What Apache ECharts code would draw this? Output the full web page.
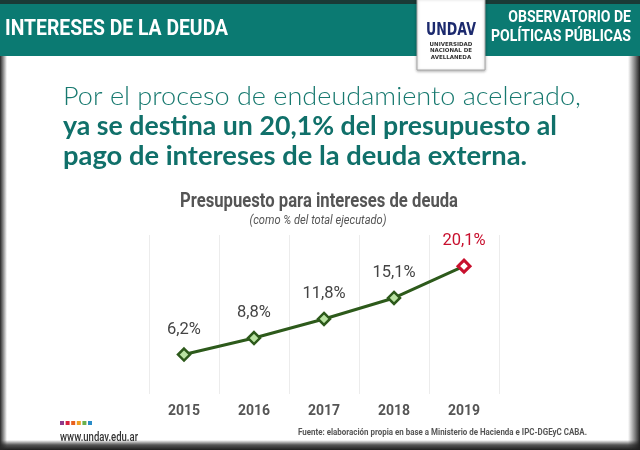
<!DOCTYPE html>
<html><head><meta charset="utf-8">
<script src="https://cdn.jsdelivr.net/npm/echarts@6/dist/echarts.min.js"></script>
<style>html,body{margin:0;padding:0;background:#fff}#c{width:640px;height:450px}</style>
</head><body><div id="c"></div>
<script>
const years = ['2015','2016','2017','2018','2019'];
const shares = [6.2, 8.8, 11.8, 15.1, 20.1];
const shareLabels = ['6,2%','8,8%','11,8%','15,1%','20,1%'];
const squareColors = ['#8e3a8a','#d8203c','#e8601c','#f0a020','#6ab04c','#2a8cc8'];

const RB = '"Roboto",sans-serif';
const mctx = document.createElement('canvas').getContext('2d');
function fit(text, font, w){ mctx.font = font; return w / mctx.measureText(text).width; }
// text element horizontally squeezed/stretched to a target width
function tx(text, x, y, font, fill, w, align){
  const s = fit(text, font, w);
  return {type:'text', x:x, y:y, scaleX:s, z:5,
    style:{text:text, fill:fill, font:font, align:align||'left', verticalAlign:'middle'}};
}

const chart = echarts.init(document.getElementById('c'), null, {renderer:'canvas'});

const squares = squareColors.map((c,i)=>({type:'rect', shape:{x:60+i*5.6, y:421, width:4, height:4}, style:{fill:c}, z:5}));

const pointData = shares.map((v,i)=>{
  const last = i === shares.length-1;
  return {
    value: v,
    symbol: 'diamond',
    symbolSize: 12,
    itemStyle: last ? {color:'#ffffff', borderColor:'#c8102e', borderWidth:3} : {color:'#b9e3a2', borderColor:'#2d5a1b', borderWidth:2.5},
    label: {formatter: shareLabels[i], color: last ? '#c8102e' : '#444'}
  };
});

const hdrFont = 'bold 17px '+RB;
const sR = fit('POLÍTICAS PÚBLICAS', hdrFont, 140);

chart.setOption({
  animation:false,
  grid:{left:149, right:141, top:235, bottom:56},
  xAxis:{type:'category', data:years, boundaryGap:true,
    axisLine:{show:false}, axisTick:{show:false},
    splitLine:{show:true, lineStyle:{color:'#ececec', width:1}},
    axisLabel:{color:'#555', fontFamily:RB, fontWeight:'bold', fontSize:14, margin:10}},
  yAxis:{type:'value', min:0, max:25, show:false, splitLine:{show:false}},
  series:[{type:'line', data:pointData, lineStyle:{color:'#2d5a1b', width:3}, itemStyle:{color:'#2d5a1b'},
    label:{show:true, position:'top', distance:9, fontFamily:RB, fontSize:16.5}}],
  graphic:[
    // header band
    {type:'rect', shape:{x:0,y:0,width:640,height:56}, style:{fill:'#0b7a72'}, z:1},
    {type:'rect', shape:{x:0,y:0,width:640,height:4}, style:{fill:'#1a3a36'}, z:2},
    tx('INTERESES DE LA DEUDA', 5, 29, 'bold 22px '+RB, '#ffffff', 223),
    {type:'text', x:631, y:18, scaleX:sR, z:5, style:{text:'OBSERVATORIO DE', fill:'#fff', font:hdrFont, align:'right', verticalAlign:'middle'}},
    {type:'text', x:631, y:37, scaleX:sR, z:5, style:{text:'POLÍTICAS PÚBLICAS', fill:'#fff', font:hdrFont, align:'right', verticalAlign:'middle'}},
    // logo
    {type:'rect', shape:{x:417,y:-2,width:68,height:72}, style:{fill:'#ffffff', stroke:'#a8a8a8', lineWidth:1, shadowBlur:3, shadowColor:'rgba(0,0,0,0.3)', shadowOffsetY:1}, z:4},
    tx('UNDAV', 451, 30, '900 18px "DejaVu Sans",sans-serif', '#1c2a6e', 50, 'center'),
    {type:'text', x:451, y:41, z:5, style:{text:'UNIVERSIDAD\nNACIONAL DE\nAVELLANEDA', fill:'#333', font:'bold 5.5px "DejaVu Sans",sans-serif', align:'center', lineHeight:6.5}},
    // main text
    tx('Por el proceso de endeudamiento acelerado,', 63, 97, '300 26px "Lato",sans-serif', '#17796f', 518),
    tx('ya se destina un 20,1% del presupuesto al', 63, 127, 'bold 26px "Lato",sans-serif', '#10706a', 494),
    tx('pago de intereses de la deuda externa.', 63, 157, 'bold 26px "Lato",sans-serif', '#10706a', 464),
    // chart titles
    tx('Presupuesto para intereses de deuda', 319, 202, 'bold 20px '+RB, '#555', 278, 'center'),
    tx('(como % del total ejecutado)', 318, 221, 'italic 12.5px '+RB, '#555', 137, 'center'),
    // footer
    ...squares,
    tx('www.undav.edu.ar', 60, 438, '500 12px '+RB, '#333', 78),
    tx('Fuente: elaboración propia en base a Ministerio de Hacienda e IPC-DGEyC CABA.', 298, 433, 'bold 9px '+RB, '#555', 289),
    // vignette edges
    {type:'rect', shape:{x:0,y:440,width:640,height:10}, style:{fill:new echarts.graphic.LinearGradient(0,0,0,1,[{offset:0,color:'rgba(40,40,40,0)'},{offset:0.5,color:'rgba(40,40,40,0.8)'},{offset:1,color:'rgba(30,30,30,1)'}])}, z:10},
    {type:'rect', shape:{x:0,y:56,width:7,height:394}, style:{fill:new echarts.graphic.LinearGradient(0,0,1,0,[{offset:0,color:'rgba(40,40,40,1)'},{offset:1,color:'rgba(40,40,40,0)'}])}, z:10},
    {type:'rect', shape:{x:628,y:56,width:12,height:394}, style:{fill:new echarts.graphic.LinearGradient(0,0,1,0,[{offset:0,color:'rgba(40,40,40,0)'},{offset:1,color:'rgba(30,30,30,1)'}])}, z:10}
  ]
});
</script></body></html>
